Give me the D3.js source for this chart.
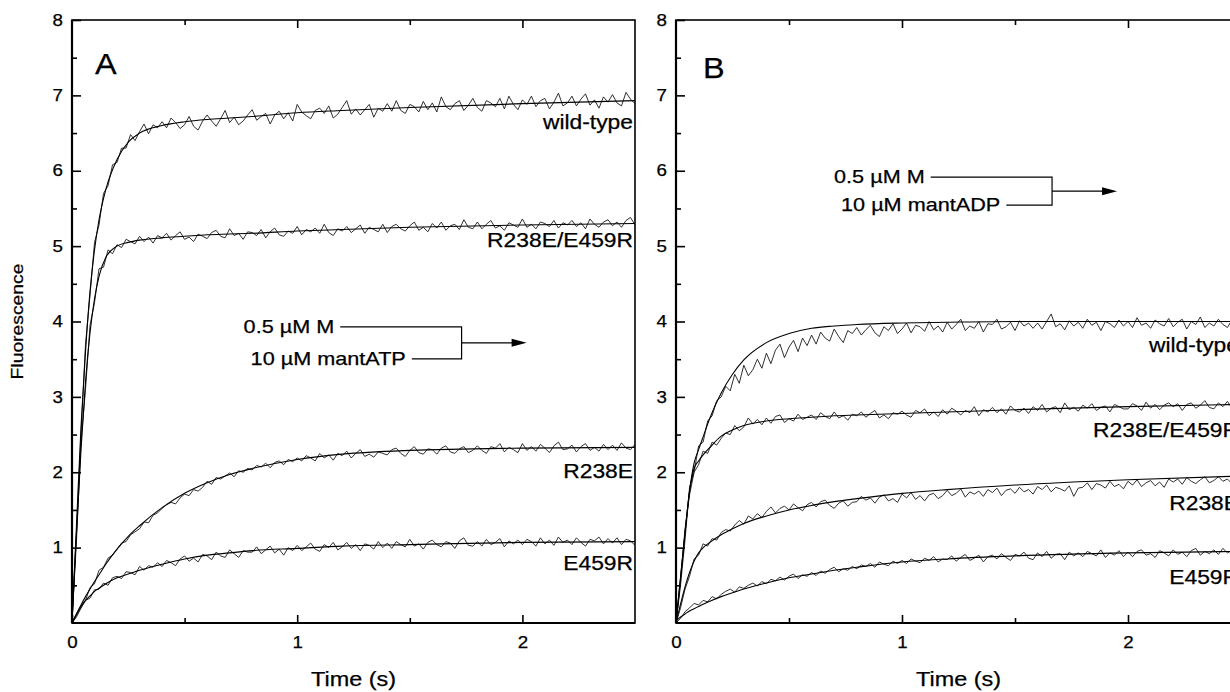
<!DOCTYPE html>
<html>
<head>
<meta charset="utf-8">
<script src="https://cdn.jsdelivr.net/npm/d3@7"></script>
<style>
  body { margin: 0; background: #fff; }
  svg { display: block; font-family: "Liberation Sans", Arial, sans-serif; }
</style>
</head>
<body>
<svg id="chart" width="1230" height="692"></svg>
<script>
// stopped-flow traces are sampled every traceStep seconds, starting at t = 0
const traceStep = 0.02;

const seriesNames = ["wild-type", "R238E/E459R", "R238E", "E459R"];

// ---- panel A : mantATP ----
const traceAwt = [
  0.05, 1.2, 2.5, 3.7, 4.35, 5.05, 5.28, 5.7, 5.8, 6.08,
  6.11, 6.30, 6.30, 6.48, 6.40, 6.52, 6.62, 6.49, 6.61, 6.57,
  6.65, 6.57, 6.70, 6.64, 6.56, 6.61, 6.72, 6.59, 6.54, 6.66,
  6.74, 6.66, 6.59, 6.69, 6.80, 6.64, 6.71, 6.61, 6.66, 6.74,
  6.81, 6.67, 6.72, 6.76, 6.62, 6.74, 6.79, 6.69, 6.77, 6.66,
  6.88, 6.78, 6.73, 6.69, 6.80, 6.83, 6.76, 6.86, 6.70, 6.75,
  6.84, 6.93, 6.75, 6.82, 6.74, 6.81, 6.88, 6.71, 6.83, 6.79,
  6.89, 6.79, 6.93, 6.80, 6.76, 6.88, 6.85, 6.78, 6.92, 6.81,
  6.90, 6.78, 6.98, 6.85, 6.81, 6.89, 6.93, 6.80, 6.87, 6.96,
  6.84, 6.79, 6.93, 6.90, 6.85, 6.96, 6.82, 6.99, 6.88, 6.81,
  6.94, 6.88, 6.99, 6.85, 6.93, 6.96, 6.82, 6.91, 7.03, 6.86,
  6.90, 6.99, 6.86, 6.95, 7.02, 6.87, 6.94, 6.83, 6.98, 6.91,
  7.01, 6.90, 6.86, 7.04, 6.95, 6.89
];
const traceAdbl = [
  0.02, 1.1, 2.4, 3.1, 3.95, 4.25, 4.7, 4.72, 4.95, 4.9,
  5.02, 4.98, 5.09, 5.06, 5.03, 5.13, 5.06, 5.12, 5.04, 5.14,
  5.11, 5.17, 5.08, 5.14, 5.19, 5.09, 5.12, 5.06, 5.16, 5.13,
  5.10, 5.18, 5.21, 5.13, 5.11, 5.23, 5.14, 5.17, 5.09, 5.19,
  5.18, 5.14, 5.22, 5.11, 5.19, 5.24, 5.15, 5.13, 5.20, 5.17,
  5.26, 5.15, 5.22, 5.19, 5.24, 5.17, 5.29, 5.18, 5.14, 5.23,
  5.20, 5.26, 5.18, 5.23, 5.28, 5.17, 5.25, 5.22, 5.19, 5.29,
  5.18, 5.26, 5.29, 5.23, 5.20, 5.27, 5.32, 5.21, 5.25, 5.19,
  5.30, 5.24, 5.32, 5.21, 5.27, 5.29, 5.22, 5.35, 5.25, 5.23,
  5.32, 5.23, 5.29, 5.34, 5.24, 5.27, 5.21, 5.31, 5.28, 5.25,
  5.36, 5.25, 5.29, 5.23, 5.32, 5.30, 5.26, 5.34, 5.24, 5.31,
  5.28, 5.34, 5.26, 5.31, 5.23, 5.36, 5.29, 5.25, 5.32, 5.35,
  5.27, 5.32, 5.25, 5.34, 5.38, 5.28
];
const traceAr238 = [
  0.0, 0.08, 0.2, 0.3, 0.47, 0.52, 0.7, 0.74, 0.86, 0.9,
  0.98, 1.06, 1.08, 1.17, 1.21, 1.25, 1.34, 1.33, 1.43, 1.46,
  1.52, 1.57, 1.60, 1.58, 1.66, 1.71, 1.69, 1.77, 1.75, 1.80,
  1.88, 1.84, 1.93, 1.91, 1.95, 1.99, 1.94, 2.02, 2.00, 2.05,
  2.03, 2.09, 2.07, 2.12, 2.06, 2.13, 2.15, 2.10, 2.17, 2.14,
  2.19, 2.15, 2.22, 2.19, 2.15, 2.25, 2.19, 2.23, 2.16, 2.25,
  2.22, 2.28, 2.19, 2.25, 2.30, 2.21, 2.24, 2.20, 2.27, 2.25,
  2.23, 2.30, 2.32, 2.25, 2.21, 2.29, 2.34, 2.26, 2.24, 2.31,
  2.30, 2.24, 2.32, 2.35, 2.27, 2.25, 2.31, 2.34, 2.26, 2.29,
  2.35, 2.29, 2.25, 2.34, 2.32, 2.38, 2.27, 2.33, 2.30, 2.26,
  2.38, 2.29, 2.34, 2.28, 2.37, 2.32, 2.26, 2.35, 2.40, 2.30,
  2.31, 2.36, 2.27, 2.34, 2.38, 2.29, 2.33, 2.28, 2.37, 2.30,
  2.36, 2.29, 2.39, 2.32, 2.30, 2.37
];
const traceAe459 = [
  0.0, 0.1, 0.2, 0.3, 0.33, 0.44, 0.45, 0.53, 0.5, 0.6,
  0.62, 0.59, 0.68, 0.67, 0.64, 0.75, 0.70, 0.76, 0.74, 0.80,
  0.75, 0.83, 0.80, 0.76, 0.85, 0.89, 0.82, 0.86, 0.81, 0.91,
  0.89, 0.84, 0.94, 0.89, 0.87, 0.97, 0.92, 0.87, 0.96, 0.94,
  0.94, 1.01, 0.92, 0.97, 1.02, 0.93, 0.98, 0.90, 1.00, 0.96,
  1.03, 0.96, 1.01, 1.06, 0.98, 0.95, 1.04, 1.00, 1.07, 0.97,
  1.01, 1.07, 0.99, 1.04, 0.96, 1.05, 1.03, 0.98, 1.08, 1.00,
  1.06, 0.99, 1.08, 1.04, 1.01, 1.11, 1.02, 1.05, 0.98, 1.07,
  1.10, 1.04, 1.01, 1.08, 1.06, 0.99, 1.09, 1.13, 1.03, 1.02,
  1.08, 1.02, 1.11, 1.04, 1.07, 1.12, 1.01, 1.09, 1.05, 1.10,
  1.04, 1.11, 1.08, 1.02, 1.13, 1.05, 1.10, 1.03, 1.14, 1.07,
  1.10, 1.04, 1.13, 1.07, 1.02, 1.11, 1.09, 1.14, 1.05, 1.12,
  1.06, 1.13, 1.04, 1.11, 1.09, 1.03
];

// ---- panel B : mantADP ----
const traceBwt = [
  0.0, 0.5, 1.1, 1.8, 2.0, 2.35, 2.4, 2.68, 2.75, 2.95,
  3.00, 3.14, 3.08, 3.30, 3.18, 3.42, 3.28, 3.36, 3.50, 3.38,
  3.58, 3.44, 3.62, 3.70, 3.52, 3.66, 3.75, 3.60, 3.78, 3.68,
  3.82, 3.70, 3.86, 3.78, 3.74, 3.90, 3.80, 3.72, 3.88, 3.84,
  3.92, 3.82, 3.89, 3.95, 3.85, 3.80, 3.93, 3.88, 3.97, 3.84,
  3.90, 3.98, 3.85, 3.95, 3.93, 3.87, 4.00, 3.89, 3.94, 3.86,
  3.99, 3.90, 3.96, 4.03, 3.88, 3.94, 3.91, 4.00, 3.86, 3.97,
  3.96, 4.03, 3.90, 3.93, 3.99, 3.88, 4.01, 3.94, 3.98, 3.91,
  3.98, 3.90, 4.00, 4.10, 3.93, 3.97, 3.89, 4.01, 3.94, 3.99,
  3.91, 4.03, 3.95, 3.99, 3.88, 4.00, 3.97, 3.92, 4.02, 3.94,
  4.00, 3.92, 4.05, 3.95, 3.98, 3.91, 4.02, 3.97, 3.94, 4.04,
  3.93, 3.99, 4.03, 3.90, 4.00, 3.96, 4.06, 3.92, 3.98, 3.94,
  4.03, 3.96, 3.92, 4.02, 3.99, 4.05
];
const traceBdbl = [
  0.0, 0.55, 1.25, 1.7, 2.0, 2.1, 2.28, 2.25, 2.4, 2.36,
  2.45, 2.52, 2.50, 2.62, 2.55, 2.60, 2.72, 2.64, 2.70, 2.63,
  2.72, 2.65, 2.74, 2.76, 2.66, 2.71, 2.68, 2.77, 2.70, 2.73,
  2.76, 2.70, 2.79, 2.74, 2.71, 2.80, 2.72, 2.75, 2.69, 2.77,
  2.75, 2.80, 2.73, 2.78, 2.82, 2.72, 2.76, 2.71, 2.79, 2.77,
  2.81, 2.76, 2.73, 2.82, 2.79, 2.84, 2.75, 2.80, 2.74, 2.83,
  2.77, 2.85, 2.81, 2.76, 2.82, 2.79, 2.87, 2.75, 2.83, 2.80,
  2.86, 2.79, 2.84, 2.77, 2.88, 2.82, 2.80, 2.85, 2.78, 2.87,
  2.82, 2.90, 2.80, 2.85, 2.87, 2.79, 2.92, 2.83, 2.86, 2.81,
  2.89, 2.85, 2.91, 2.82, 2.86, 2.88, 2.80, 2.90, 2.87, 2.84,
  2.84, 2.91, 2.88, 2.82, 2.93, 2.85, 2.90, 2.83, 2.89, 2.92,
  2.87, 2.91, 2.82, 2.90, 2.92, 2.85, 2.89, 2.95, 2.86, 2.84,
  2.92, 2.87, 2.94, 2.85, 2.90, 2.91
];
const traceBr238 = [
  0.0, 0.2, 0.45, 0.62, 0.85, 0.9, 1.05, 1.02, 1.12, 1.1,
  1.20, 1.24, 1.22, 1.30, 1.36, 1.31, 1.42, 1.38, 1.45, 1.40,
  1.48, 1.54, 1.46, 1.52, 1.55, 1.50, 1.58, 1.53, 1.49, 1.57,
  1.60, 1.54, 1.61, 1.63, 1.56, 1.52, 1.59, 1.62, 1.55, 1.60,
  1.61, 1.68, 1.63, 1.66, 1.59, 1.67, 1.70, 1.62, 1.65, 1.60,
  1.71, 1.66, 1.73, 1.64, 1.69, 1.62, 1.70, 1.72, 1.65, 1.69,
  1.76, 1.69, 1.72, 1.78, 1.67, 1.74, 1.71, 1.75, 1.68, 1.77,
  1.73, 1.79, 1.69, 1.76, 1.78, 1.72, 1.80, 1.74, 1.77, 1.71,
  1.81, 1.77, 1.83, 1.74, 1.80, 1.78, 1.75, 1.82, 1.68, 1.79,
  1.80, 1.86, 1.77, 1.85, 1.83, 1.79, 1.88, 1.81, 1.84, 1.78,
  1.88, 1.83, 1.90, 1.81, 1.86, 1.89, 1.82, 1.87, 1.80, 1.91,
  1.87, 1.91, 1.84, 1.93, 1.88, 1.85, 1.90, 1.94, 1.86, 1.89,
  1.94, 1.88, 1.91, 1.85, 1.93, 1.92
];
const traceBe459 = [
  0.0, 0.06, 0.15, 0.2, 0.26, 0.24, 0.3, 0.28, 0.35, 0.32,
  0.38, 0.42, 0.45, 0.41, 0.48, 0.46, 0.50, 0.53, 0.49, 0.55,
  0.52, 0.58, 0.56, 0.61, 0.57, 0.62, 0.65, 0.59, 0.64, 0.62,
  0.67, 0.63, 0.69, 0.66, 0.71, 0.74, 0.68, 0.72, 0.70, 0.75,
  0.72, 0.77, 0.75, 0.79, 0.74, 0.81, 0.78, 0.76, 0.82, 0.79,
  0.83, 0.79, 0.85, 0.82, 0.80, 0.86, 0.83, 0.88, 0.81, 0.85,
  0.84, 0.89, 0.82, 0.87, 0.91, 0.83, 0.86, 0.90, 0.81, 0.88,
  0.90, 0.85, 0.92, 0.87, 0.83, 0.91, 0.89, 0.94, 0.86, 0.84,
  0.93, 0.88, 0.95, 0.86, 0.91, 0.92, 0.84, 0.94, 0.89, 0.93,
  0.88, 0.95, 0.92, 0.89, 0.97, 0.87, 0.93, 0.90, 0.96, 0.88,
  0.94, 0.88, 0.95, 0.97, 0.90, 0.92, 0.87, 0.96, 0.93, 0.89,
  0.97, 0.91, 0.94, 0.88, 0.96, 0.99, 0.90, 0.95, 0.92, 0.97,
  0.91, 0.99, 0.93, 0.96, 0.90, 0.97
];

// fitted curves, read at these times (s)
const fitTimes = [0, 0.02, 0.04, 0.06, 0.08, 0.1, 0.12, 0.15, 0.2, 0.25, 0.3, 0.4, 0.5, 0.6, 0.7, 0.8, 1.0, 1.2, 1.5, 2.0, 2.5];
const fitAwt   = [0, 1.3, 2.6, 3.6, 4.4, 4.95, 5.35, 5.75, 6.15, 6.38, 6.5, 6.6, 6.65, 6.68, 6.7, 6.72, 6.77, 6.8, 6.84, 6.89, 6.93];
const fitAdbl  = [0, 1.2, 2.3, 3.2, 3.85, 4.3, 4.6, 4.85, 5.0, 5.05, 5.08, 5.11, 5.13, 5.15, 5.16, 5.17, 5.2, 5.22, 5.25, 5.28, 5.3];
const fitAr238 = [0, 0.12, 0.24, 0.35, 0.45, 0.55, 0.64, 0.78, 0.98, 1.15, 1.29, 1.53, 1.72, 1.86, 1.97, 2.05, 2.17, 2.24, 2.29, 2.32, 2.33];
const fitAe459 = [0, 0.12, 0.22, 0.3, 0.36, 0.42, 0.46, 0.52, 0.6, 0.65, 0.7, 0.78, 0.85, 0.9, 0.93, 0.96, 0.99, 1.02, 1.04, 1.07, 1.08];
const fitBwt   = [0, 0.6, 1.2, 1.75, 2.12, 2.3, 2.47, 2.72, 3.05, 3.3, 3.49, 3.72, 3.84, 3.91, 3.94, 3.96, 3.98, 3.99, 4.0, 4.0, 4.0];
const fitBdbl  = [0, 0.6, 1.2, 1.75, 2.05, 2.15, 2.23, 2.33, 2.48, 2.56, 2.62, 2.68, 2.71, 2.73, 2.75, 2.76, 2.78, 2.8, 2.83, 2.87, 2.9];
const fitBr238 = [0, 0.25, 0.48, 0.67, 0.82, 0.93, 1.0, 1.07, 1.17, 1.25, 1.32, 1.42, 1.5, 1.56, 1.61, 1.65, 1.72, 1.77, 1.83, 1.9, 1.95];
const fitBe459 = [0.03, 0.08, 0.12, 0.16, 0.19, 0.22, 0.25, 0.29, 0.35, 0.4, 0.45, 0.53, 0.6, 0.65, 0.7, 0.74, 0.81, 0.85, 0.89, 0.93, 0.95];

// where each curve's name sits (fluorescence units, baseline)
const labelLevelsA = [6.56, 4.99, 1.92, 0.70];
const labelLevelsB = [3.59, 2.47, 1.50, 0.52];

const yTicks = [1, 2, 3, 4, 5, 6, 7, 8];
const yMinorTicks = [0.5, 1.5, 2.5, 3.5, 4.5, 5.5, 6.5, 7.5];
const xTicks = [0, 1, 2];
const xMinorTicks = [0.5, 1.5];
const xTopTicks = [1, 2];

[traceAwt, traceAdbl, traceAr238, traceAe459, traceBwt, traceBdbl, traceBr238, traceBe459].forEach((a, i) => {
  if (a.length !== 126) throw new Error("trace " + i + " has " + a.length + " points");
});

const panels = [
  { letter: "A", left: 72, right: 635, letterDx: 23, letterY: 74,
    traces: [traceAwt, traceAdbl, traceAr238, traceAe459],
    fits: [fitAwt, fitAdbl, fitAr238, fitAe459],
    labelLevels: labelLevelsA, showTitle: true,
    reagent: "10 \u00b5M mantATP", bracket: [1.73, 3.93], bracketGap: 32 },
  { letter: "B", left: 676, right: 1241, letterDx: 27, letterY: 78,
    traces: [traceBwt, traceBdbl, traceBr238, traceBe459],
    fits: [fitBwt, fitBdbl, fitBr238, fitBe459],
    labelLevels: labelLevelsB, showTitle: false,
    reagent: "10 \u00b5M mantADP", bracket: [1.664, 5.915], bracketGap: 28 }
];

const plotTop = 20, plotBottom = 623;
const stretch = 1.17;
const svg = d3.select("#chart");

// the original lettering is a little wider than Arial
function widen(sel, k) {
  sel.each(function() {
    const w = this.getComputedTextLength();
    d3.select(this).attr("textLength", w * k).attr("lengthAdjust", "spacingAndGlyphs");
  });
}

const y = d3.scaleLinear().domain([0, 8]).range([plotBottom, plotTop]);

panels.forEach((p, pi) => {
  const x = d3.scaleLinear().domain([0, 2.5]).range([p.left, p.right]);
  const g = svg.append("g");

  const clipId = "clip" + pi;
  g.append("clipPath").attr("id", clipId)
    .append("rect").attr("x", p.left).attr("y", plotTop)
    .attr("width", p.right - p.left).attr("height", plotBottom - plotTop);

  const plot = g.append("g").attr("clip-path", "url(#" + clipId + ")");

  const traceLine = d3.line().x((d, i) => x(i * traceStep)).y(d => y(d));
  const fitLine = d3.line().x((d, i) => x(fitTimes[i])).y(d => y(d)).curve(d3.curveMonotoneX);

  p.traces.forEach(tr => {
    plot.append("path").attr("d", traceLine(tr))
      .attr("fill", "none").attr("stroke", "#1a1a1a").attr("stroke-width", 0.9)
      .attr("stroke-linejoin", "round");
  });
  p.fits.forEach(f => {
    plot.append("path").attr("d", fitLine(f))
      .attr("fill", "none").attr("stroke", "#000").attr("stroke-width", 1.1);
  });

  // frame
  g.append("rect").attr("x", p.left).attr("y", plotTop)
    .attr("width", p.right - p.left).attr("height", plotBottom - plotTop)
    .attr("fill", "none").attr("stroke", "#000").attr("stroke-width", 1.6);
  g.append("line").attr("x1", p.left).attr("x2", p.left).attr("y1", plotTop).attr("y2", plotBottom)
    .attr("stroke", "#000").attr("stroke-width", 2.2);
  g.append("line").attr("x1", p.left).attr("x2", p.right).attr("y1", plotBottom).attr("y2", plotBottom)
    .attr("stroke", "#000").attr("stroke-width", 2.2);

  // axes, ticks pointing inward
  const yAxis = g.append("g").attr("transform", `translate(${p.left},0)`)
    .call(d3.axisLeft(y).tickValues(yTicks).tickSize(-9).tickSizeOuter(0).tickPadding(9).tickFormat(d3.format("d")));
  g.append("g").attr("transform", `translate(${p.left},0)`)
    .call(d3.axisLeft(y).tickValues(yMinorTicks).tickSize(-5).tickSizeOuter(0).tickFormat(""));
  const xAxis = g.append("g").attr("transform", `translate(0,${plotBottom})`)
    .call(d3.axisBottom(x).tickValues(xTicks).tickSize(-8).tickSizeOuter(0).tickPadding(14).tickFormat(d3.format("d")));
  g.append("g").attr("transform", `translate(0,${plotBottom})`)
    .call(d3.axisBottom(x).tickValues(xMinorTicks).tickSize(-5).tickSizeOuter(0).tickFormat(""));
  g.append("g").attr("transform", `translate(0,${plotTop})`)
    .call(d3.axisTop(x).tickValues(xTopTicks).tickSize(-8).tickSizeOuter(0).tickFormat(""));
  g.append("g").attr("transform", `translate(0,${plotTop})`)
    .call(d3.axisTop(x).tickValues(xMinorTicks).tickSize(-5).tickSizeOuter(0).tickFormat(""));

  g.selectAll(".domain").remove();
  g.selectAll(".tick line").attr("stroke", "#000").attr("stroke-width", 1.6);
  [yAxis, xAxis].forEach(a => {
    a.selectAll("text")
      .attr("font-family", "Liberation Sans, Arial, sans-serif")
      .attr("font-size", 16).attr("fill", "#000")
      .call(widen, stretch);
  });

  // panel letter
  g.append("text").attr("x", p.left + p.letterDx).attr("y", p.letterY)
    .attr("font-size", 29).text(p.letter).call(widen, 1.12);

  // curve names
  g.selectAll(".name").data(seriesNames).join("text")
    .attr("class", "name")
    .attr("x", p.right - 2).attr("y", (d, i) => y(p.labelLevels[i]))
    .attr("text-anchor", "end").attr("font-size", 19.5)
    .text(d => d).call(widen, stretch);

  // x title
  g.append("text").attr("x", (p.left + p.right) / 2).attr("y", 686)
    .attr("text-anchor", "middle").attr("font-size", 20)
    .text("Time (s)").call(widen, stretch);

  if (p.showTitle) {
    g.append("text").attr("transform", `translate(23,${(plotTop + plotBottom) / 2}) rotate(-90)`)
      .attr("text-anchor", "middle").attr("font-size", 16.5)
      .text("Fluorescence").call(widen, stretch);
  }

  // mixing scheme: protein + nucleotide -> cell
  const bx = x(p.bracket[0]), by = y(p.bracket[1]), gap = p.bracketGap;
  const t1 = g.append("text").attr("x", bx - 218).attr("y", by + 6)
    .attr("font-size", 18.5).text("0.5 \u00b5M M");
  const t2 = g.append("text").attr("x", bx - 211).attr("y", by + gap + 6)
    .attr("font-size", 18.5).text(p.reagent);
  widen(t1, stretch);
  widen(t2, stretch);
  const e1 = bx - 218 + +t1.attr("textLength") + 6;
  const e2 = bx - 211 + +t2.attr("textLength") + 6;
  const bracket = d3.path();
  bracket.moveTo(e1, by); bracket.lineTo(bx, by);
  bracket.lineTo(bx, by + gap); bracket.lineTo(e2, by + gap);
  bracket.moveTo(bx, by + gap / 2); bracket.lineTo(bx + 52, by + gap / 2);
  g.append("path").attr("d", bracket.toString())
    .attr("stroke", "#000").attr("stroke-width", 1.2).attr("fill", "none");
  const tip = bx + 65, ay = by + gap / 2;
  g.append("path")
    .attr("d", `M${tip},${ay} L${tip - 15},${ay - 4} L${tip - 15},${ay + 4} Z`)
    .attr("fill", "#000");
});

// slightly heavier lettering, like the printed figure
svg.selectAll("text").attr("stroke", "#000").attr("stroke-width", 0.25);
</script>
</body>
</html>
